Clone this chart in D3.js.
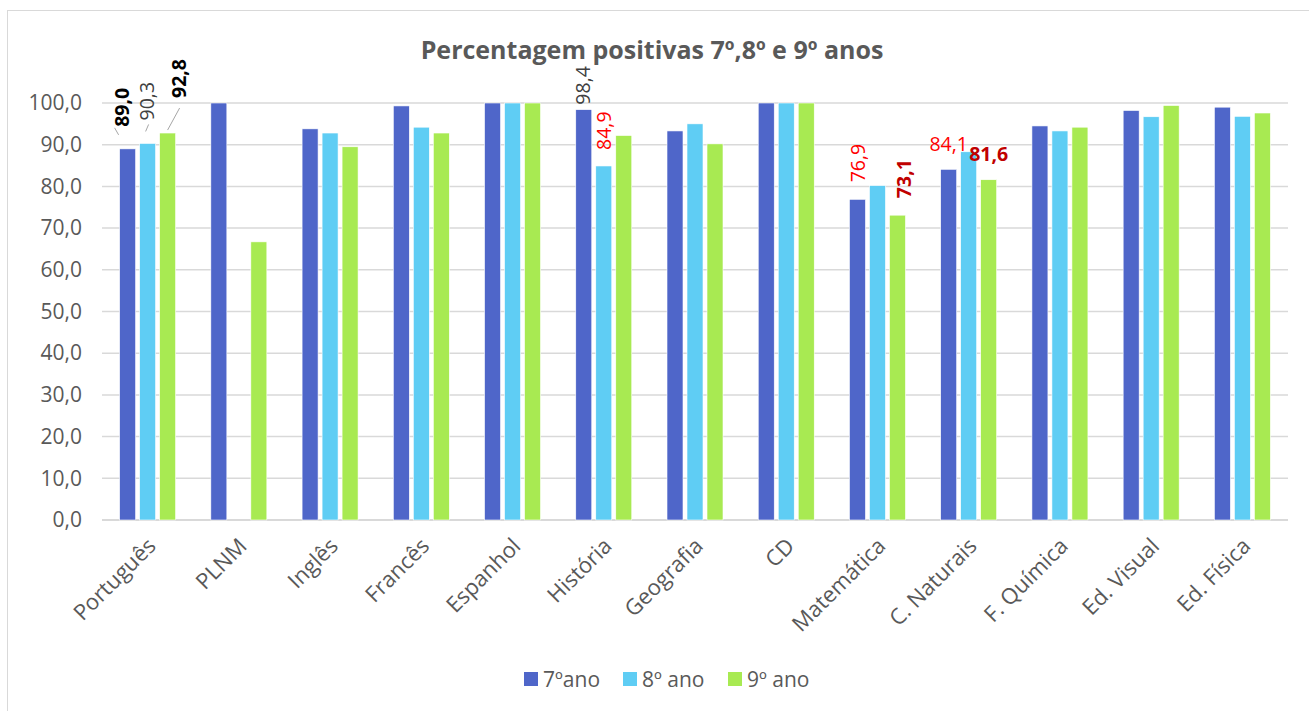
<!DOCTYPE html>
<html>
<head>
<meta charset="utf-8">
<script src="https://cdn.jsdelivr.net/npm/d3@7"></script>
<style>
  body { margin: 0; background: #fff; }
  text { font-family: "Open Sans", sans-serif; }
</style>
</head>
<body>
<svg id="chart" width="1309" height="711"></svg>
<script>
// chart data
var categories = ["Português", "PLNM", "Inglês", "Francês", "Espanhol", "História", "Geografia",
                  "CD", "Matemática", "C. Naturais", "F. Química", "Ed. Visual", "Ed. Física"];
var seriesNames = ["7ºano", "8º ano", "9º ano"];
var ano7 = [89.0, 100.0, 93.8, 99.3, 100.0, 98.4, 93.3, 100.0, 76.9, 84.1, 94.5, 98.2, 99.0];
var ano8 = [90.3, null, 92.8, 94.2, 100.0, 84.9, 95.0, 100.0, 80.2, 88.3, 93.3, 96.7, 96.8];
var ano9 = [92.8, 66.7, 89.5, 92.8, 100.0, 92.2, 90.2, 100.0, 73.1, 81.6, 94.2, 99.4, 97.6];
var yTicks = [0, 10, 20, 30, 40, 50, 60, 70, 80, 90, 100];
var title = "Percentagem positivas 7º,8º e 9º anos";

// which bars carry a data label
var labelCats = ["Português", "Português", "Português", "História", "História",
                 "Matemática", "Matemática", "C. Naturais", "C. Naturais"];
var labelSeries = [0, 1, 2, 0, 1, 0, 2, 0, 2];

// look of each label (same order as above)
var labelStyle = [
  {color: "#000", bold: true,  rot: true,  dx: -5, gap: 22, lead: [-13, -21, -9, -14]},
  {color: "#404040", bold: false, rot: true, dx: 0, gap: 23, lead: [1, -19, -2, -12]},
  {color: "#000", bold: true,  rot: true,  dx: 12, gap: 35, lead: [12, -25, 0, -3]},
  {color: "#404040", bold: false, rot: true, dx: -1, gap: 5},
  {color: "#ff0000", bold: false, rot: true, dx: 0, gap: 16},
  {color: "#ff0000", bold: false, rot: true, dx: 1, gap: 17},
  {color: "#c00000", bold: true,  rot: true,  dx: 7, gap: 17},
  {color: "#ff0000", bold: false, rot: false, dx: 0, gap: 18},
  {color: "#c00000", bold: true,  rot: false, dx: 0, gap: 19}
];

var colors = ["#4f66c9", "#5fcdf4", "#a8ea52"];
var values = [ano7, ano8, ano9];

var svg = d3.select("#chart"),
    margin = {left: 102, right: 21, top: 103, bottom: 191},
    width = +svg.attr("width") - margin.left - margin.right,
    height = +svg.attr("height") - margin.top - margin.bottom;

var fmt = d => d3.format(".1f")(d).replace(".", ",");

// outer chart border (right/bottom run off the picture)
svg.append("rect")
  .attr("x", 7.5).attr("y", 10.5)
  .attr("width", 1320).attr("height", 720)
  .attr("fill", "none")
  .attr("stroke", "#d9d9d9");

svg.append("text")
  .attr("x", 652).attr("y", 59)
  .attr("text-anchor", "middle")
  .style("font-size", "25px")
  .style("font-weight", "bold")
  .attr("fill", "#595959")
  .text(title);

var g = svg.append("g").attr("transform", "translate(" + margin.left + "," + margin.top + ")");

var x0 = d3.scaleBand().domain(categories).range([0, width]);
var x1 = d3.scaleBand().domain([0, 1, 2]).range([0, 60]);
var y = d3.scaleLinear().domain([0, 100]).range([height, 0]);

var groupOff = (x0.bandwidth() - 60) / 2;
function barX(cat, s) { return x0(cat) + groupOff + x1(s) + 2; }
function barW() { return x1.bandwidth() - 4; }

// gridlines
g.append("g")
  .selectAll("line")
  .data(yTicks)
  .enter().append("line")
  .attr("x1", 0).attr("x2", width)
  .attr("y1", d => y(d)).attr("y2", d => y(d))
  .attr("stroke", "#d9d9d9")
  .attr("stroke-width", d => d === 0 ? 2 : 1.5);

// y axis labels
var yAxis = d3.axisLeft(y).tickValues(yTicks).tickFormat(fmt).tickSize(0).tickPadding(20);
g.append("g").call(yAxis)
  .call(a => a.select(".domain").remove())
  .selectAll("text")
  .style("font-size", "21px")
  .attr("fill", "#595959");

// bars
seriesNames.forEach(function(name, s) {
  g.append("g")
    .attr("class", "series")
    .selectAll("rect")
    .data(categories.map((c, i) => ({cat: c, v: values[s][i]})).filter(d => d.v != null))
    .enter().append("rect")
    .attr("x", d => barX(d.cat, s))
    .attr("width", barW())
    .attr("y", d => y(d.v))
    .attr("height", d => y(0) - y(d.v))
    .attr("fill", colors[s])
    .attr("stroke", "#fff")
    .attr("stroke-width", 0.6);
});

// x axis labels
var xAxis = d3.axisBottom(x0).tickSize(0).tickPadding(0);
g.append("g")
  .attr("transform", "translate(0," + height + ")")
  .call(xAxis)
  .call(a => a.select(".domain").remove())
  .selectAll("text")
  .style("font-size", "22px")
  .attr("fill", "#595959")
  .attr("text-anchor", "end")
  .attr("dy", "0.35em")
  .attr("transform", "translate(4,22) rotate(-45)");

// data labels
labelCats.forEach(function(cat, k) {
  var s = labelSeries[k], st = labelStyle[k];
  var v = values[s][categories.indexOf(cat)];
  var cx = barX(cat, s) + barW() / 2, ty = y(v);
  if (st.lead) {
    g.append("line")
      .attr("x1", cx + st.lead[0]).attr("y1", ty + st.lead[1])
      .attr("x2", cx + st.lead[2]).attr("y2", ty + st.lead[3])
      .attr("stroke", "#a6a6a6").attr("stroke-width", 1);
  }
  var t = g.append("text")
    .style("font-size", "19.5px")
    .style("font-weight", st.bold ? "bold" : "normal")
    .attr("fill", st.color)
    .text(fmt(v));
  if (st.rot) {
    t.attr("transform", "translate(" + (cx + st.dx) + "," + (ty - st.gap) + ") rotate(-90)")
      .attr("dy", "0.35em");
  } else {
    t.attr("x", cx + st.dx).attr("y", ty - st.gap).attr("text-anchor", "middle");
  }
});

// legend
var legend = svg.append("g").attr("transform", "translate(524,672)");
var legX = [0, 99, 204];
seriesNames.forEach(function(name, s) {
  var item = legend.append("g").attr("transform", "translate(" + legX[s] + ",0)");
  item.append("rect").attr("width", 14).attr("height", 14).attr("fill", colors[s]);
  item.append("text")
    .attr("x", 19).attr("y", 14.5)
    .style("font-size", "21px")
    .attr("fill", "#595959")
    .text(name);
});
</script>
</body>
</html>
